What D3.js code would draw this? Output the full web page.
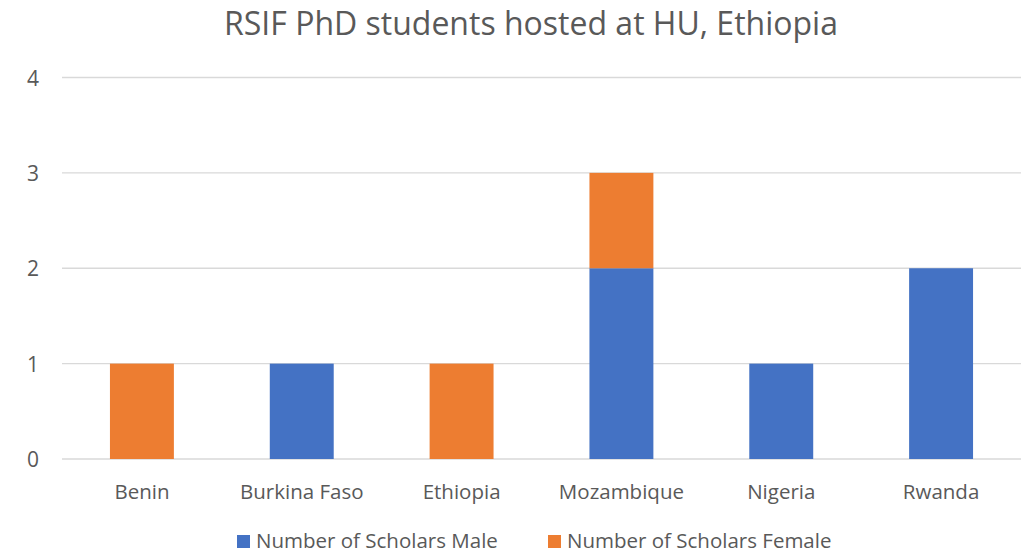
<!DOCTYPE html>
<html><head><meta charset="utf-8">
<script src="https://cdn.jsdelivr.net/npm/d3@7"></script>
<style>body{margin:0;background:#fff}svg{display:block}text{font-family:"Open Sans",sans-serif;fill:#595959}</style>
</head><body><svg id="c" width="1023" height="554"></svg>
<script>
const categories = ["Benin","Burkina Faso","Ethiopia","Mozambique","Nigeria","Rwanda"];
const maleValues = [0,1,0,2,1,2];
const femaleValues = [1,0,1,1,0,0];
const seriesNames = ["Number of Scholars Male","Number of Scholars Female"];
const seriesColors = ["#4472C4","#ED7D31"];
const yTicks = [0,1,2,3,4];
const title = "RSIF PhD students hosted at HU, Ethiopia";

const svg = d3.select("#c");
const x = d3.scaleBand().domain(categories).range([62,1021]).paddingInner(0.6).paddingOuter(0.3);
const y = d3.scaleLinear().domain([0,4]).range([459,77.5]);

svg.append("g").selectAll("line").data(yTicks).join("line")
  .attr("x1",62).attr("x2",1021).attr("y1",d=>y(d)).attr("y2",d=>y(d))
  .attr("stroke","#d9d9d9").attr("stroke-width",1.3);

const rows = categories.map((c,i)=>({cat:c, male:maleValues[i], female:femaleValues[i]}));
const stack = d3.stack().keys(["male","female"])(rows);
svg.append("g").selectAll("g").data(stack).join("g")
  .attr("fill",(d,i)=>seriesColors[i])
  .selectAll("rect").data(d=>d).join("rect")
  .attr("x",d=>x(d.data.cat)).attr("width",x.bandwidth())
  .attr("y",d=>y(d[1])).attr("height",d=>y(d[0])-y(d[1]));

const yAxis = svg.append("g").attr("transform","translate(39,0)")
  .call(d3.axisLeft(y).tickValues(yTicks).tickSize(0).tickFormat(d3.format("d")));
yAxis.select(".domain").remove();
yAxis.selectAll("text").attr("font-size",21).attr("x",0).attr("dy","0.36em").style("font-family","Open Sans").style("fill","#595959");

const xAxis = svg.append("g").attr("transform","translate(0,459)")
  .call(d3.axisBottom(x).tickSize(0));
xAxis.select(".domain").remove();
xAxis.selectAll("text").attr("font-size",20.5).attr("y",40).attr("dy",0).style("font-family","Open Sans").style("fill","#595959");

svg.append("text").attr("x",531).attr("y",35).attr("text-anchor","middle")
  .attr("font-size",32).text(title);

const leg = svg.append("g");
const legX = [237,548];
seriesNames.forEach((n,i)=>{
  leg.append("rect").attr("x",legX[i]).attr("y",535).attr("width",13).attr("height",13).attr("fill",seriesColors[i]);
  leg.append("text").attr("x",legX[i]+19).attr("y",548).attr("font-size",20.5).text(n);
});
</script></body></html>
